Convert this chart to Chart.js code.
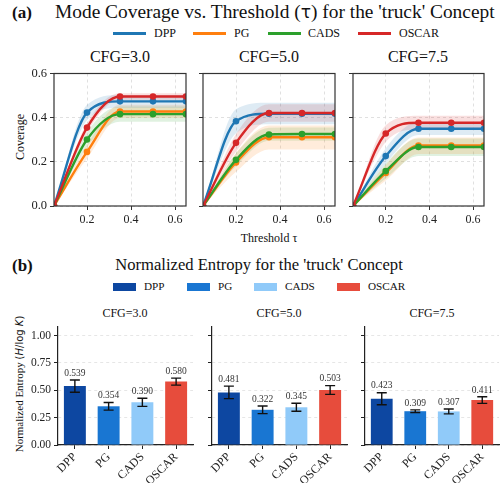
<!DOCTYPE html>
<html>
<head>
<meta charset="utf-8">
<script src="https://cdn.jsdelivr.net/npm/chart.js@4.4.0/dist/chart.umd.min.js"></script>
<style>
  body { margin: 0; background: #fff; width: 503px; height: 483px; position: relative; overflow: hidden;
         font-family: 'Liberation Serif', 'Times New Roman', serif; color: #111; }
  .t { position: absolute; white-space: nowrap; line-height: 1; transform: translate(0, -50%); }
  .c { transform: translate(-50%, -50%); }
  .v { transform: translate(-50%, -50%) rotate(-90deg); }
  .sw { position: absolute; }
  canvas { position: absolute; }
  .math { font-family: 'DejaVu Sans', sans-serif; }
</style>
</head>
<body>
<!-- panel (a) text -->
<div class="t" style="left:12px;top:12px;font-size:17px;font-weight:bold">(a)</div>
<div class="t" style="left:55px;top:12px;font-size:19.4px">Mode Coverage vs. Threshold (<span class="math" style="font-size:17px">τ</span>) for the 'truck' Concept</div>

<div class="sw" style="left:113px;top:32px;width:33px;height:2.5px;background:#1f77b4"></div>
<div class="t" style="left:154px;top:33px;font-size:12px">DPP</div>
<div class="sw" style="left:193px;top:32px;width:33px;height:2.5px;background:#ff7f0e"></div>
<div class="t" style="left:234px;top:33px;font-size:12px">PG</div>
<div class="sw" style="left:268px;top:32px;width:33px;height:2.5px;background:#2ca02c"></div>
<div class="t" style="left:308px;top:33px;font-size:12px">CADS</div>
<div class="sw" style="left:358px;top:32px;width:33px;height:2.5px;background:#d62728"></div>
<div class="t" style="left:399px;top:33px;font-size:12px">OSCAR</div>

<div class="t c" style="left:120px;top:57px;font-size:16px">CFG=3.0</div>
<div class="t c" style="left:269px;top:57px;font-size:16px">CFG=5.0</div>
<div class="t c" style="left:418px;top:57px;font-size:16px">CFG=7.5</div>

<div class="t v" style="left:20px;top:137px;font-size:12px">Coverage</div>
<div class="t c" style="left:269px;top:238px;font-size:12px">Threshold τ</div>

<!-- panel (b) text -->
<div class="t" style="left:12px;top:265px;font-size:17px;font-weight:bold">(b)</div>
<div class="t c" style="left:259px;top:265px;font-size:16.6px">Normalized Entropy for the 'truck' Concept</div>

<div class="sw" style="left:113px;top:283px;width:23px;height:8px;background:#0d47a1"></div>
<div class="t" style="left:144px;top:287px;font-size:11.2px">DPP</div>
<div class="sw" style="left:187px;top:283px;width:23px;height:8px;background:#1976d2"></div>
<div class="t" style="left:218px;top:287px;font-size:11.2px">PG</div>
<div class="sw" style="left:254px;top:283px;width:23px;height:8px;background:#90caf9"></div>
<div class="t" style="left:285px;top:287px;font-size:11.2px">CADS</div>
<div class="sw" style="left:337px;top:283px;width:23px;height:8px;background:#e74c3c"></div>
<div class="t" style="left:368px;top:287px;font-size:11.2px">OSCAR</div>

<div class="t c" style="left:125px;top:313px;font-size:12px">CFG=3.0</div>
<div class="t c" style="left:279px;top:313px;font-size:12px">CFG=5.0</div>
<div class="t c" style="left:432px;top:313px;font-size:12px">CFG=7.5</div>

<div class="t v" style="left:19px;top:384px;font-size:11px">Normalized Entropy <span class="math" style="font-size:10px">(<i>H</i>/log <i>K</i>)</span></div>

<canvas id="cov1"></canvas><canvas id="cov2"></canvas><canvas id="cov3"></canvas>
<canvas id="ent1"></canvas><canvas id="ent2"></canvas><canvas id="ent3"></canvas>

<script>
  const thresholds = [0.05, 0.2, 0.35, 0.5, 0.65];
  const methods = ['DPP', 'PG', 'CADS', 'OSCAR'];
  const coverageTicksX = [0.2, 0.4, 0.6];
  const coverageTicksY = [0, 0.2, 0.4, 0.6];
  const entropyTicksY = [0, 0.25, 0.5, 0.75, 1.0];

  // mean coverage, rows: DPP, PG, CADS, OSCAR
  const coverage30 = [
    [0, 0.423, 0.474, 0.474, 0.474],
    [0, 0.245, 0.428, 0.428, 0.428],
    [0, 0.301, 0.416, 0.416, 0.416],
    [0, 0.355, 0.496, 0.496, 0.496],
  ];
  const coverageLow30 = [
    [0, 0.388, 0.445, 0.445, 0.445],
    [0, 0.215, 0.398, 0.398, 0.398],
    [0, 0.268, 0.381, 0.381, 0.381],
    [0, 0.335, 0.481, 0.481, 0.481],
  ];
  const coverageHigh30 = [
    [0, 0.458, 0.503, 0.503, 0.503],
    [0, 0.275, 0.458, 0.458, 0.458],
    [0, 0.334, 0.451, 0.451, 0.451],
    [0, 0.375, 0.511, 0.511, 0.511],
  ];

  const coverage50 = [
    [0, 0.384, 0.418, 0.418, 0.418],
    [0, 0.197, 0.311, 0.311, 0.311],
    [0, 0.209, 0.324, 0.326, 0.326],
    [0, 0.286, 0.421, 0.421, 0.421],
  ];
  const coverageLow50 = [
    [0, 0.330, 0.370, 0.370, 0.370],
    [0, 0.155, 0.256, 0.256, 0.256],
    [0, 0.180, 0.295, 0.296, 0.296],
    [0, 0.246, 0.381, 0.381, 0.381],
  ];
  const coverageHigh50 = [
    [0, 0.438, 0.467, 0.467, 0.467],
    [0, 0.240, 0.364, 0.364, 0.364],
    [0, 0.238, 0.354, 0.356, 0.356],
    [0, 0.326, 0.461, 0.461, 0.461],
  ];

  const coverage75 = [
    [0, 0.226, 0.350, 0.350, 0.350],
    [0, 0.150, 0.274, 0.274, 0.274],
    [0, 0.158, 0.267, 0.267, 0.267],
    [0, 0.328, 0.377, 0.377, 0.377],
  ];
  const coverageLow75 = [
    [0, 0.192, 0.321, 0.321, 0.321],
    [0, 0.115, 0.236, 0.236, 0.236],
    [0, 0.124, 0.226, 0.226, 0.226],
    [0, 0.290, 0.346, 0.346, 0.346],
  ];
  const coverageHigh75 = [
    [0, 0.262, 0.380, 0.380, 0.380],
    [0, 0.186, 0.310, 0.310, 0.310],
    [0, 0.192, 0.306, 0.306, 0.306],
    [0, 0.366, 0.409, 0.409, 0.409],
  ];

  // normalized entropy (bar height) and error bar half-lengths
  const entropy30 = [0.539, 0.354, 0.390, 0.580];
  const entropyErr30 = [0.056, 0.035, 0.037, 0.032];
  const entropy50 = [0.481, 0.322, 0.345, 0.503];
  const entropyErr50 = [0.057, 0.035, 0.037, 0.040];
  const entropy75 = [0.423, 0.309, 0.307, 0.411];
  const entropyErr75 = [0.055, 0.012, 0.022, 0.030];

  const lineColors = ['#1f77b4', '#ff7f0e', '#2ca02c', '#d62728'];
  const bandColors = ['rgba(31,119,180,0.15)', 'rgba(255,127,14,0.15)', 'rgba(44,160,44,0.15)', 'rgba(214,39,40,0.15)'];
  const barColors = ['#0d47a1', '#1976d2', '#90caf9', '#e74c3c'];

  const serif = 'Liberation Serif';
  Chart.defaults.font.family = serif;
  Chart.defaults.color = '#222';

  function placeCanvas(id, rect, m) {
    const c = document.getElementById(id);
    const w = rect.r - rect.l + m.l + m.r;
    const h = rect.b - rect.t + m.t + m.b;
    c.width = w;
    c.height = h;
    c.style.width = w + 'px';
    c.style.height = h + 'px';
    c.style.left = (rect.l - m.l) + 'px';
    c.style.top = (rect.t - m.t) + 'px';
    return c;
  }

  const framePlugin = {
    id: 'frame',
    afterDraw(chart) {
      const { ctx, chartArea: a } = chart;
      ctx.save();
      ctx.strokeStyle = '#333';
      ctx.lineWidth = 1.2;
      ctx.strokeRect(a.left, a.top, a.right - a.left, a.bottom - a.top);
      ctx.restore();
    },
  };

  const errorBarPlugin = {
    id: 'errorBars',
    afterDatasetsDraw(chart) {
      const ds = chart.data.datasets[0];
      const meta = chart.getDatasetMeta(0);
      const y = chart.scales.y;
      const ctx = chart.ctx;
      ctx.save();
      meta.data.forEach((bar, i) => {
        const v = ds.data[i];
        const e = ds.errors[i];
        const top = y.getPixelForValue(v + e);
        const bot = y.getPixelForValue(v - e);
        ctx.strokeStyle = '#111';
        ctx.lineWidth = 1.4;
        ctx.beginPath();
        ctx.moveTo(bar.x, top); ctx.lineTo(bar.x, bot);
        ctx.moveTo(bar.x - 5, top); ctx.lineTo(bar.x + 5, top);
        ctx.moveTo(bar.x - 5, bot); ctx.lineTo(bar.x + 5, bot);
        ctx.stroke();
        ctx.fillStyle = '#333';
        ctx.font = '9.5px ' + serif;
        ctx.textAlign = 'center';
        ctx.textBaseline = 'bottom';
        ctx.fillText(v.toFixed(3), bar.x, top - 2);
      });
      ctx.restore();
    },
  };

  const toPoints = (vals) => thresholds.map((t, j) => ({ x: t, y: vals[j] }));

  function drawCoverage(id, rect, mean, low, high, showY) {
    const m = { l: 44, r: 8, t: 6, b: 28 };
    const canvas = placeCanvas(id, rect, m);
    const datasets = [];
    methods.forEach((name, i) => {
      datasets.push({
        data: toPoints(high[i]), fill: '+1', backgroundColor: bandColors[i],
        borderWidth: 0, pointRadius: 0, cubicInterpolationMode: 'monotone', order: 10 + i, clip: 0,
      });
      datasets.push({
        data: toPoints(low[i]), fill: false, borderColor: 'rgba(0,0,0,0)',
        borderWidth: 0, pointRadius: 0, cubicInterpolationMode: 'monotone', order: 10 + i, clip: 0,
      });
    });
    methods.forEach((name, i) => {
      datasets.push({
        label: name, data: toPoints(mean[i]), fill: false,
        borderColor: lineColors[i], backgroundColor: lineColors[i], pointBackgroundColor: lineColors[i],
        borderWidth: 2.4, pointRadius: 3.3, pointBorderWidth: 0,
        cubicInterpolationMode: 'monotone', order: 4 - i, clip: 0,
      });
    });

    new Chart(canvas, {
      type: 'line',
      data: { datasets },
      options: {
        responsive: false,
        animation: false,
        events: [],
        layout: { padding: { left: 0, top: m.t, right: m.r, bottom: 0 } },
        plugins: { legend: { display: false }, tooltip: { enabled: false } },
        scales: {
          x: {
            type: 'linear', min: 0.05, max: 0.65,
            afterBuildTicks: (s) => { s.ticks = coverageTicksX.map((value) => ({ value })); },
            afterFit: (s) => { s.height = m.b; },
            ticks: { callback: (v) => v.toFixed(1), font: { size: 12 }, color: '#222', padding: 3, maxRotation: 0 },
            grid: { color: '#d9d9d9', lineWidth: 0.8, tickColor: '#333', tickLength: 4, tickWidth: 1, tickBorderDash: [] },
            border: { display: false, dash: [3, 3] },
          },
          y: {
            min: 0, max: 0.6,
            afterBuildTicks: (s) => { s.ticks = coverageTicksY.map((value) => ({ value })); },
            afterFit: (s) => { s.width = m.l; },
            ticks: { callback: (v) => (showY ? v.toFixed(1) : ''), font: { size: 12.5 }, color: '#222', padding: 3 },
            grid: { color: '#d9d9d9', lineWidth: 0.8, tickColor: '#333', tickLength: 4, tickWidth: 1, tickBorderDash: [] },
            border: { display: false, dash: [3, 3] },
          },
        },
      },
      plugins: [framePlugin],
    });
  }

  function drawEntropy(id, rect, values, errors, showY) {
    const m = { l: 50, r: 4, t: 6, b: 38 };
    const canvas = placeCanvas(id, rect, m);
    new Chart(canvas, {
      type: 'bar',
      data: {
        labels: methods,
        datasets: [{
          data: values, errors, backgroundColor: barColors,
          barPercentage: 0.65, categoryPercentage: 1,
        }],
      },
      options: {
        responsive: false,
        animation: false,
        events: [],
        layout: { padding: { left: 0, top: m.t, right: m.r, bottom: 0 } },
        plugins: { legend: { display: false }, tooltip: { enabled: false } },
        scales: {
          x: {
            afterFit: (s) => { s.height = m.b; },
            ticks: { minRotation: 45, maxRotation: 45, autoSkip: false, font: { size: 12 }, color: '#222', padding: 1 },
            grid: { drawOnChartArea: false, offset: false, tickLength: 4, tickColor: '#222', tickWidth: 1 },
            border: { color: '#222', width: 1.2 },
          },
          y: {
            min: 0, max: 1.08,
            afterBuildTicks: (s) => { s.ticks = entropyTicksY.map((value) => ({ value })); },
            afterFit: (s) => { s.width = m.l; },
            ticks: { callback: (v) => (showY ? v.toFixed(2) : ''), font: { size: 11.5 }, color: '#222', padding: 3 },
            grid: { color: '#e0e0e0', lineWidth: 0.8, tickColor: '#222', tickLength: 4, tickWidth: 1, tickBorderDash: [] },
            border: { color: '#222', width: 1.2, dash: [3, 3] },
          },
        },
      },
      plugins: [errorBarPlugin],
    });
  }

  const topRow = { t: 69, b: 206 };
  const bottomRow = { t: 323, b: 445 };

  drawCoverage('cov1', { l: 54, r: 186, ...topRow }, coverage30, coverageLow30, coverageHigh30, true);
  drawCoverage('cov2', { l: 203, r: 335, ...topRow }, coverage50, coverageLow50, coverageHigh50, false);
  drawCoverage('cov3', { l: 353, r: 484, ...topRow }, coverage75, coverageLow75, coverageHigh75, false);

  drawEntropy('ent1', { l: 58, r: 193, ...bottomRow }, entropy30, entropyErr30, true);
  drawEntropy('ent2', { l: 212, r: 347, ...bottomRow }, entropy50, entropyErr50, false);
  drawEntropy('ent3', { l: 365, r: 499, ...bottomRow }, entropy75, entropyErr75, false);
</script>
</body>
</html>
